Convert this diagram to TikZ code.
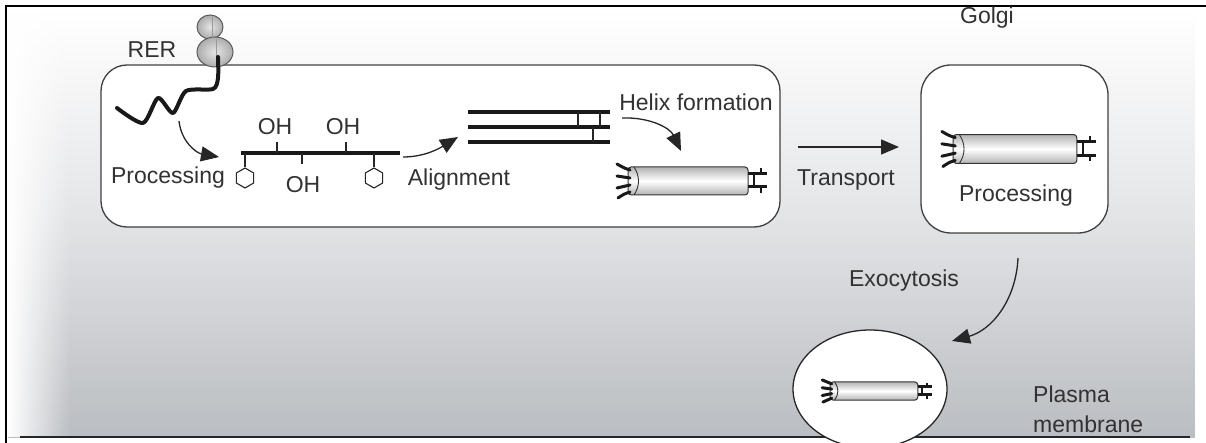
\documentclass[tikz,border=0pt]{standalone}
\usepackage{fontspec}
\setmainfont{Liberation Sans}
\usetikzlibrary{arrows.meta,fadings,shapes.geometric}

\definecolor{txt}{RGB}{50,50,50}
\definecolor{bgmid}{RGB}{230,231,233}
\definecolor{bglow}{RGB}{186,189,193}

\tikzset{
  lbl/.style={font=\fontsize{23}{30}\selectfont, text=txt, inner sep=0pt},
  compartment/.style={draw=black!75, line width=1.3pt, fill=white},
  flow/.style={draw=black!85, line width=1.3pt, -{Triangle[length=18pt,width=15pt]}},
  chainline/.style={line width=4.5pt, black!90, line cap=round, line join=round},
  bond/.style={line width=1.2pt, black!85},
  hexa/.style={draw=black!85, line width=1.1pt, regular polygon, regular polygon sides=6,
               shape border rotate=30, minimum size=20pt, inner sep=0pt, fill=white},
  ribo/.style={draw=black!65, line width=1pt, inner color=gray!20, outer color=gray!65},
  fibril/.pic={
    % tube body
    \shade[top color=gray!60, bottom color=gray!60, middle color=white,
           draw=black!80, line width=1pt, rounded corners=3pt]
      (-60,-14) rectangle (60,14);
    % open left end
    \draw[line width=0.9pt, black!80] (-54,-14) .. controls (-48,-5) and (-48,5) .. (-54,14);
    % loose strands
    \draw[line width=3pt, black!90, line cap=round]
      (-58,-11) .. controls (-64,-13) .. (-71,-17)
      (-58,-3) .. controls (-64,-4) .. (-71,-5)
      (-58,4) .. controls (-64,5) .. (-71,7)
      (-58,11) .. controls (-64,13) .. (-70,17);
    % cross-linked ends
    \draw[line width=3pt, black!90] (60,-7) -- (79,-7) (60,6) -- (79,6);
    \draw[line width=2.2pt, black!90] (66,-7) -- (66,6) (73,-13) -- (73,-7) (73,6) -- (73,12);
  }
}

\begin{document}
\begin{tikzpicture}[x=1pt,y=-1pt]
\useasboundingbox (0,0) rectangle (1206,443);

% ---- background ----
\fill[white] (0,0) rectangle (1206,443);
\shade[top color=white, bottom color=bgmid] (8,8) rectangle (1195,200);
\shade[top color=bgmid, bottom color=bglow] (8,200) rectangle (1195,437);
\fill[white, path fading=east] (8,8) rectangle (70,437);
\fill[white] (1195,8) rectangle (1206,443);

% ---- frame and membrane line ----
\draw[line width=2.5pt, black] (6,443) -- (6,6) -- (1206,6);
\draw[line width=2.5pt, black!85] (20,437) -- (1190,437);

% ---- compartments ----
\node[compartment, rounded corners=26pt, minimum width=679pt, minimum height=162pt]
  (rer) at (440.5,146) {};
\node[compartment, rounded corners=30pt, minimum width=187pt, minimum height=168pt]
  (golgi) at (1014.5,149) {};
\node[draw=black!85, line width=1.3pt, fill=white, ellipse, minimum width=154pt,
      minimum height=118pt, inner sep=0pt] (vesicle) at (870,389) {};

% ---- labels ----
\node[lbl] (rerlbl) at (152,50) {RER};
\node[lbl] (golgilbl) at (987,18) {Golgi};
\node[lbl] (proc1) at (168,178) {Processing};
\node[lbl] (oh1) at (275,127) {OH};
\node[lbl] (oh2) at (343,127) {OH};
\node[lbl] (oh3) at (303,185) {OH};
\node[lbl] (align) at (459,180) {Alignment};
\node[lbl] (helix) at (696,102) {Helix formation};
\node[lbl] (transport) at (846,180) {Transport};
\node[lbl] (proc2) at (1016,196) {Processing};
\node[lbl] (exo) at (904,281) {Exocytosis};
\node[lbl, anchor=west, align=left] (plasma) at (1033,409) {Plasma\\membrane};

% ---- ribosome with nascent chain ----
\draw[ribo] (210,27) ellipse (13pt and 12pt);
\draw[ribo] (215,52) ellipse (18pt and 15pt);
\draw[black!40, line width=0.6pt] (212,17) -- (212,38) (216,39) -- (216,66);
\draw[chainline, line width=4pt]
  plot[smooth, tension=0.45] coordinates {(218,57) (218,78) (213,89) (186,91)
    (173,113) (158,98) (143,123) (117,108)};

% ---- hydroxylated chain ----
\draw[chainline, line cap=butt] (241,153) -- (400,153);
\draw[bond] (277,153) -- (277,142);
\draw[bond] (346,153) -- (346,142);
\draw[bond] (302,153) -- (302,164);
\node[hexa] (hex1) at (245,178) {};
\node[hexa] (hex2) at (374,178) {};
\draw[bond] (245,153) -- (hex1.north);
\draw[bond] (374,153) -- (hex2.north);

% ---- aligned triple chain ----
\draw[chainline, line cap=butt] (468,112) -- (610,112);
\draw[chainline, line cap=butt] (468,127) -- (610,127);
\draw[chainline, line cap=butt] (468,142) -- (610,142);
\draw[bond] (578,112) -- (578,127) (600,112) -- (600,127) (593,127) -- (593,142);

% ---- triple helices ----
\pic at (688,181) {fibril};
\pic[scale=1.03] at (1015,149) {fibril};
\pic[xscale=0.73, yscale=0.65] at (874,391) {fibril};

% ---- pathway arrows ----
\coordinate (p1s) at (179,121);
\coordinate (p1e) at (219,157);
\coordinate (a1s) at (403,157);
\coordinate (a1e) at (458,137);
\coordinate (h1s) at (622,118);
\coordinate (h1e) at (681,151);
\coordinate (t1s) at (798,147);
\coordinate (t1e) at (899,147);
\coordinate (e1s) at (1018,258);
\coordinate (e1e) at (952,341);

\draw[flow] (p1s) .. controls (181,141) and (196,153) .. (p1e);
\draw[flow] (a1s) .. controls (425,157) and (440,148) .. (a1e);
\draw[flow] (h1s) .. controls (650,117) and (670,128) .. (h1e);
\draw[flow] (t1s) -- (t1e);
\draw[flow] (e1s) .. controls (1016,300) and (992,330) .. (e1e);
\end{tikzpicture}
\end{document}
